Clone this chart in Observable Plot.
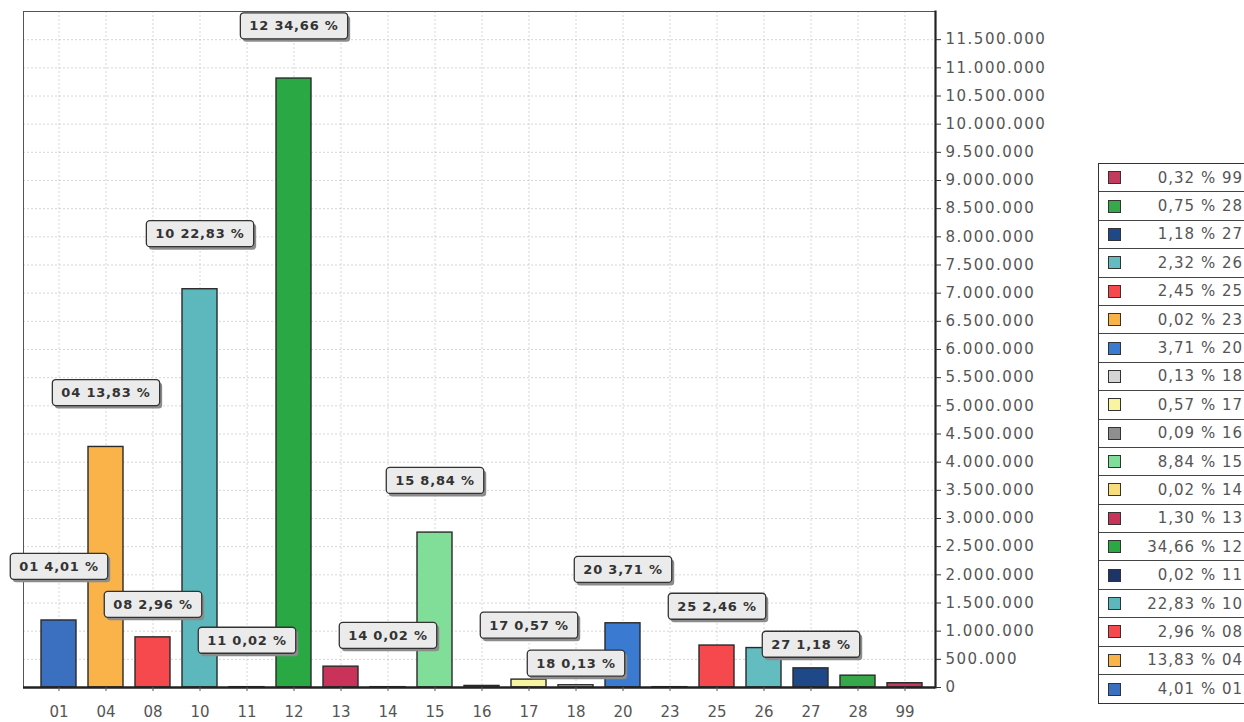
<!DOCTYPE html>
<html><head><meta charset="utf-8">
<script src="https://cdn.jsdelivr.net/npm/d3@7"></script>
<script src="https://cdn.jsdelivr.net/npm/@observablehq/plot@0.6"></script>
<style>
html,body{margin:0;padding:0;background:#fff;overflow:hidden;width:1244px;height:722px;}
#wrap{position:relative;width:1244px;height:722px;}
#legend{position:absolute;left:1098px;top:163px;width:152px;border:1.5px solid #333;border-right:none;font-family:"DejaVu Sans",sans-serif;font-size:15px;color:#555;background:#fff;}
#legend .row{display:flex;align-items:center;height:28.4px;box-sizing:border-box;border-bottom:1.2px solid #444;}
#legend .row:last-child{border-bottom:none;}
#legend .sw{width:11px;height:11px;border:1.5px solid #333;margin-left:9px;flex:none;}
#legend .tx{flex:1;text-align:right;padding-right:8px;letter-spacing:1px;white-space:nowrap;}
g[aria-label="y-axis tick label"] text{letter-spacing:1.5px;}
</style></head>
<body><div id="wrap"></div>
<script>
const categories = ["01","04","08","10","11","12","13","14","15","16","17","18","20","23","25","26","27","28","99"];
const values = [1190000, 4270000, 890000, 7070000, 6000, 10810000, 370000, 6000, 2750000, 28000, 140000, 40000, 1140000, 6000, 745000, 700000, 340000, 210000, 76000];
const shares = ["4,01","13,83","2,96","22,83","0,02","34,66","1,30","0,02","8,84","0,09","0,57","0,13","3,71","0,02","2,45","2,32","1,18","0,75","0,32"];
const colors = ["#3b6fc0","#f9b349","#f5494d","#5cb8bd","#1d3566","#2aa844","#c9335a","#f7dd7c","#80de98","#8f8f8f","#f8f4a0","#d5d5d5","#3a7ad0","#f9b349","#f5494d","#62bcc0","#1f4888","#36a84a","#c23a5c"];
const labelCats = ["01","04","08","10","11","12","14","15","17","18","20","25","27"];
const labelTexts = ["01 4,01 %","04 13,83 %","08 2,96 %","10 22,83 %","11 0,02 %","12 34,66 %","14 0,02 %","15 8,84 %","17 0,57 %","18 0,13 %","20 3,71 %","25 2,46 %","27 1,18 %"];
const labelAt = [2145000, 5230000, 1470000, 8050000, 833000, 11740000, 920000, 3670000, 1100000, 425000, 2090000, 1436000, 762000];
const yTicks = d3.range(0, 11500001, 500000);

const bars = categories.map((c, i) => ({cat: c, value: values[i], color: colors[i]}));
const labels = labelCats.map((c, i) => ({cat: c, at: labelAt[i], text: labelTexts[i]}));
const fmt = d => d3.format(",")(d).replace(/,/g, ".");

const plot = Plot.plot({
  width: 1244, height: 722,
  marginLeft: 23, marginRight: 309, marginTop: 11, marginBottom: 35,
  style: {fontFamily: "DejaVu Sans, sans-serif", fontSize: "15px", color: "#555", background: "#fff"},
  x: {domain: categories, range: [34.5, 929.6], paddingInner: 0.25, paddingOuter: 0.125, label: null},
  y: {domain: [0, 12000000], label: null},
  marks: [
    Plot.gridY(yTicks, {stroke: "#bbb", strokeOpacity: 0.6, strokeDasharray: "2,2"}),
    Plot.gridX({stroke: "#bbb", strokeOpacity: 0.6, strokeDasharray: "2,2"}),
    Plot.frame({stroke: "#555", strokeWidth: 1}),
    Plot.barY(bars, {x: "cat", y: "value", fill: "color", stroke: "#2a2a2a", strokeWidth: 1.4}),
    Plot.ruleY([0], {stroke: "#222", strokeWidth: 2.5}),
    Plot.frame({anchor: "right", stroke: "#222", strokeWidth: 2.2}),
    Plot.axisY({anchor: "right", ticks: yTicks, tickFormat: fmt, tickSize: 5, tickPadding: 5, fill: "#555", stroke: "#333", label: null}),
    Plot.axisX({tickSize: 4, tickPadding: 15, fill: "#555", stroke: "#555", label: null}),
    Plot.text(labels, {x: "cat", y: "at", text: "text", fill: "#333", fontSize: 13, fontWeight: 600})
  ]
});
document.getElementById("wrap").appendChild(plot);

// draw rounded callout boxes behind each label
const svgNS = "http://www.w3.org/2000/svg";
const labelSet = new Set(labelTexts);
Array.from(plot.querySelectorAll("text")).filter(t => labelSet.has(t.textContent)).forEach(t => {
  t.setAttribute("letter-spacing", "0.8");
  const b = t.getBBox();
  const padX = 9, padY = 5.5;
  const tr = t.getAttribute("transform");
  const mk = (dx, dy, fill, stroke) => {
    const r = document.createElementNS(svgNS, "rect");
    r.setAttribute("x", b.x - padX + dx);
    r.setAttribute("y", b.y - padY + dy);
    r.setAttribute("width", b.width + 2 * padX);
    r.setAttribute("height", b.height + 2 * padY);
    r.setAttribute("rx", 3.5);
    r.setAttribute("fill", fill);
    if (stroke) { r.setAttribute("stroke", stroke); r.setAttribute("stroke-width", 1.3); }
    if (tr) r.setAttribute("transform", tr);
    t.parentNode.insertBefore(r, t);
  };
  mk(2.5, 3, "#8c8c8c", null);
  mk(0, 0, "#ebebeb", "#333");
});

// legend (HTML), reversed category order as in the reference
const legend = document.createElement("div");
legend.id = "legend";
categories.map((c, i) => ({c, s: shares[i], col: colors[i]})).reverse().forEach(d => {
  const row = document.createElement("div");
  row.className = "row";
  row.innerHTML = `<span class="sw" style="background:${d.col}"></span><span class="tx">${d.s} % ${d.c}</span>`;
  legend.appendChild(row);
});
document.getElementById("wrap").appendChild(legend);
</script>
</body></html>
